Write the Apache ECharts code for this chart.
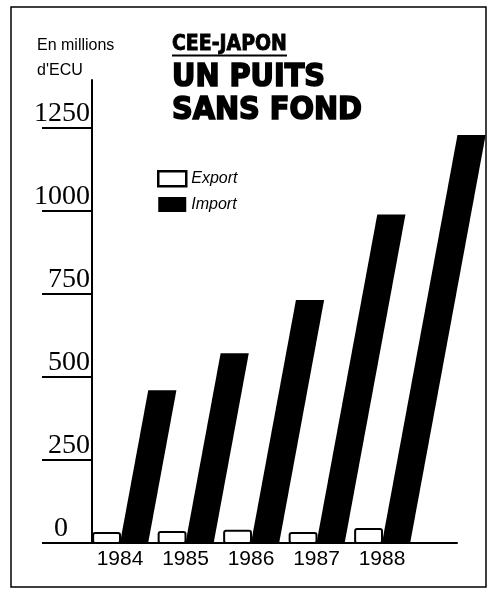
<!DOCTYPE html>
<html>
<head>
<meta charset="utf-8">
<script src="https://cdn.jsdelivr.net/npm/echarts@6/dist/echarts.min.js"></script>
<style>
  html, body { margin: 0; padding: 0; background: #fff; }
  #main { width: 490px; height: 592px; }
</style>
</head>
<body>
<div id="main"></div>
<script>
// CEE-JAPON, en millions d'ECU
var years = [1984, 1985, 1986, 1987, 1988];
var exportVals = [30, 33, 37, 30, 42];
var importVals = [460, 572, 732, 990, 1229];
var yTicks = [0, 250, 500, 750, 1000, 1250];

var barW = 0.43;     // largeur barre import (en annees)
var expW = 0.41;     // largeur barre export
var slant = 0.185;   // inclinaison des barres import

var myChart = echarts.init(document.getElementById('main'));

function importItem(params, api) {
    var x = api.value(0), v = api.value(1);
    var p0 = api.coord([x, 0]);
    var p1 = api.coord([x, v]);
    var w = api.size([barW, 0])[0];
    var s = (p0[1] - p1[1]) * slant;
    return {
        type: 'polygon',
        shape: { points: [[p0[0], p0[1]], [p0[0] + w, p0[1]], [p0[0] + w + s, p1[1]], [p0[0] + s, p1[1]]] },
        style: api.style()
    };
}

function exportItem(params, api) {
    var x = api.value(0), v = api.value(1);
    var p0 = api.coord([x, 0]);
    var p1 = api.coord([x, v]);
    var w = api.size([expW, 0])[0];
    return {
        type: 'rect',
        shape: { x: p0[0] - w, y: p1[1], width: w, height: p0[1] - p1[1], r: 2 },
        style: api.style()
    };
}

var option = {
    backgroundColor: '#fff',
    animation: false,
    grid: { left: 92, right: 33, top: 80, bottom: 49 },
    xAxis: {
        type: 'value',
        min: 1983.5725,
        max: 1989.145,
        splitLine: { show: false },
        axisTick: { show: false },
        axisLine: { show: true, lineStyle: { color: '#000', width: 2 } },
        axisLabel: {
            customValues: years,
            formatter: function (v) { return String(v); },
            color: '#000',
            fontFamily: 'Liberation Sans',
            fontSize: 21,
            margin: 6
        }
    },
    yAxis: {
        type: 'value',
        min: 0,
        max: 1395,
        splitLine: { show: false },
        axisLine: { show: true, lineStyle: { color: '#000', width: 2 } },
        axisTick: {
            show: true,
            customValues: yTicks,
            length: 50,
            lineStyle: { color: '#000', width: 2 }
        },
        axisLabel: {
            customValues: yTicks,
            color: '#000',
            fontFamily: 'Liberation Serif',
            fontSize: 28,
            lineHeight: 28,
            verticalAlign: 'bottom',
            margin: 2,
            formatter: function (v) { return v === 0 ? '{z|0}' : String(v); },
            rich: {
                z: { fontFamily: 'Liberation Serif', fontSize: 28, lineHeight: 28, padding: [0, 22, 0, 0], color: '#000' }
            }
        }
    },
    legend: {
        orient: 'vertical',
        left: 152,
        top: 165,
        itemWidth: 28,
        itemHeight: 15,
        itemGap: 9,
        icon: 'rect',
        textStyle: { color: '#000', fontStyle: 'italic', fontFamily: 'Liberation Sans', fontSize: 16, lineHeight: 15 },
        data: [
            { name: 'Export', itemStyle: { color: '#fff', borderColor: '#000', borderWidth: 2.5 } },
            { name: 'Import', itemStyle: { color: '#000' } }
        ]
    },
    graphic: [
        { type: 'rect', shape: { x: 11, y: 7, width: 475, height: 580 }, style: { fill: 'none', stroke: '#000', lineWidth: 1.5 } },
        { type: 'text', left: 37, top: 33, style: { text: 'En millions\nd\'ECU', font: '16px "Liberation Sans"', fill: '#000', lineHeight: 25 } },
        { type: 'text', x: 172, y: 45, style: { text: 'CEE-JAPON', font: 'bold 21px "DejaVu Sans Condensed"', fill: '#000', stroke: '#000', lineWidth: 0.8, verticalAlign: 'middle' } },
        { type: 'line', shape: { x1: 172, y1: 55.5, x2: 287, y2: 55.5 }, style: { stroke: '#000', lineWidth: 2 } },
        { type: 'text', x: 172, y: 78, style: { text: 'UN PUITS', font: 'bold 32px "DejaVu Sans Condensed"', fill: '#000', stroke: '#000', lineWidth: 1.6, verticalAlign: 'middle' } },
        { type: 'text', x: 172, y: 111, style: { text: 'SANS FOND', font: 'bold 32px "DejaVu Sans Condensed"', fill: '#000', stroke: '#000', lineWidth: 1.6, verticalAlign: 'middle' } }
    ],
    series: [
        {
            name: 'Export',
            type: 'custom',
            renderItem: exportItem,
            itemStyle: { color: '#fff', borderColor: '#000', borderWidth: 2 },
            data: years.map(function (y, i) { return [y, exportVals[i]]; }),
            z: 3
        },
        {
            name: 'Import',
            type: 'custom',
            renderItem: importItem,
            itemStyle: { color: '#000' },
            data: years.map(function (y, i) { return [y, importVals[i]]; }),
            z: 3
        }
    ]
};

myChart.setOption(option);
</script>
</body>
</html>
